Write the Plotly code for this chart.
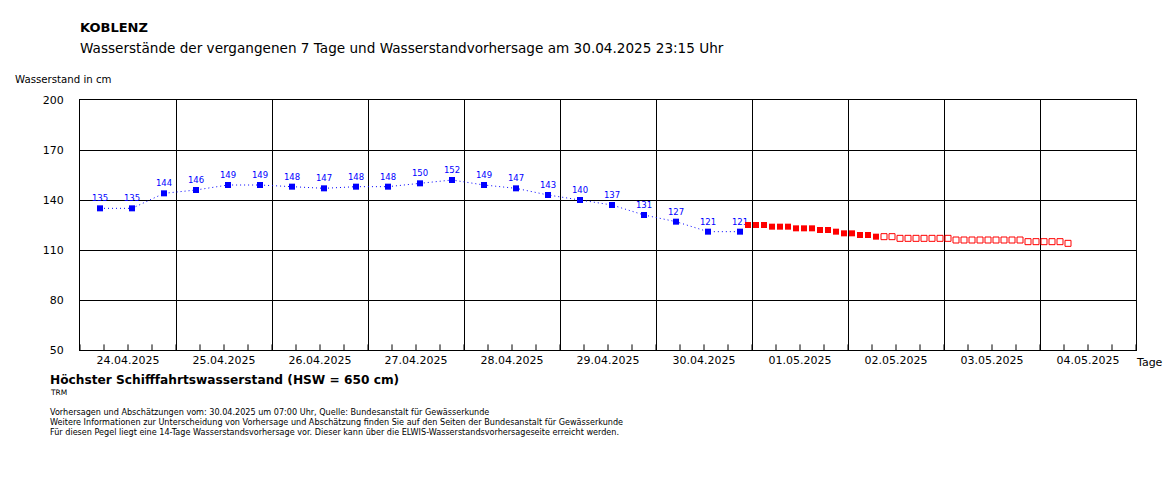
import pandas as pd
import plotly.graph_objects as go

# ---------------- data ----------------
gemessen_werte = [135, 135, 144, 146, 149, 149, 148, 147, 148, 148, 150,
                  152, 149, 147, 143, 140, 137, 131, 127, 121, 121]
gemessen_zeit = pd.date_range("2025-04-24 05:00", periods=len(gemessen_werte), freq="8h")

vorhersage_werte = [125, 125, 125, 124, 124, 124, 123, 123, 123, 122, 122,
                    121, 120, 120, 119, 119, 118]
vorhersage_zeit = pd.date_range("2025-04-30 23:00", periods=len(vorhersage_werte), freq="2h")

abschaetzung_werte = [118, 118, 117, 117, 117, 117, 117, 117, 117,
                      116, 116, 116, 116, 116, 116, 116, 116, 116,
                      115, 115, 115, 115, 115, 114]
abschaetzung_zeit = pd.date_range(vorhersage_zeit[-1] + pd.Timedelta(hours=2),
                                  periods=len(abschaetzung_werte), freq="2h")

titel = "KOBLENZ"
untertitel = "Wasserstände der vergangenen 7 Tage und Wasserstandvorhersage am 30.04.2025 23:15 Uhr"
y_titel = "Wasserstand in cm"
x_einheit = "Tage"
hsw_text = "Höchster Schifffahrtswasserstand (HSW = 650 cm)"
kuerzel = "TRM"
fusszeilen = [
    "Vorhersagen und Abschätzungen vom: 30.04.2025 um 07:00 Uhr, Quelle: Bundesanstalt für Gewässerkunde",
    "Weitere Informationen zur Unterscheidung von Vorhersage und Abschätzung finden Sie auf den Seiten der Bundesanstalt für Gewässerkunde",
    "Für diesen Pegel liegt eine 14-Tage Wasserstandsvorhersage vor. Dieser kann über die ELWIS-Wasserstandsvorhersageseite erreicht werden.",
]

# ---------------- figure ----------------
FONT = "DejaVu Sans"
W, H = 1166, 480
L, R, T, B = 80, 30, 100, 130
PW, PH = W - L - R, H - T - B
X_RANGE = ["2025-04-24 00:00", "2025-05-05 00:00"]
Y_RANGE = [50, 200]

# 6-hour tick marks along the time axis
tick_zeit = pd.date_range(X_RANGE[0], X_RANGE[1], freq="6h")


def px(x):
    return (x - L) / PW


def py(y):
    return (H - B - y) / PH


fig = go.Figure()

fig.add_trace(go.Scatter(
    x=tick_zeit, y=[Y_RANGE[0]] * len(tick_zeit), mode="markers",
    marker=dict(symbol="line-ns-open", size=8, color="black",
                line=dict(width=1, color="black")),
    cliponaxis=True, showlegend=False, hoverinfo="skip",
))

fig.add_trace(go.Scatter(
    x=gemessen_zeit, y=gemessen_werte,
    mode="lines+markers+text",
    line=dict(color="#0000FF", width=1, dash="1px,3px"),
    marker=dict(symbol="square", size=6, color="#0000FF"),
    text=[str(v) for v in gemessen_werte],
    textposition="top center",
    textfont=dict(family=FONT, size=8.5, color="#0000FF"),
    showlegend=False, hoverinfo="x+y",
))

fig.add_trace(go.Scatter(
    x=vorhersage_zeit, y=vorhersage_werte, mode="markers",
    marker=dict(symbol="square", size=6, color="#FF0000"),
    showlegend=False,
))

fig.add_trace(go.Scatter(
    x=abschaetzung_zeit, y=abschaetzung_werte, mode="markers",
    marker=dict(symbol="square-open", size=6, color="#FF0000",
                line=dict(width=1, color="#FF0000")),
    showlegend=False,
))

fig.update_layout(
    width=W, height=H,
    margin=dict(l=L, r=R, t=T, b=B, pad=0),
    paper_bgcolor="white", plot_bgcolor="white",
    font=dict(family=FONT, size=11, color="black"),
    xaxis=dict(
        type="date", range=X_RANGE,
        tick0="2025-04-24", dtick=86400000,
        tickformat="%d.%m.%Y", ticklabelmode="period",
        ticks="", showgrid=True, gridcolor="black", gridwidth=1,
        showline=True, linecolor="black", linewidth=1, mirror=True,
        tickfont=dict(family=FONT, size=11),
        zeroline=False,
    ),
    yaxis=dict(
        range=Y_RANGE, tick0=50, dtick=30,
        ticks="", showgrid=True, gridcolor="black", gridwidth=1,
        showline=True, linecolor="black", linewidth=1, mirror=True,
        tickfont=dict(family=FONT, size=11),
        ticklabelstandoff=13, zeroline=False,
    ),
)

ann = [
    dict(text="<b>" + titel + "</b>", x=px(78), y=py(28), size=13),
    dict(text=untertitel, x=px(78), y=py(48), size=13.6),
    dict(text=y_titel, x=px(13), y=py(80), size=10.2),
    dict(text="<b>" + hsw_text + "</b>", x=px(48), y=py(380), size=12.2),
    dict(text=kuerzel, x=px(48), y=py(392), size=7.5),
    dict(text=fusszeilen[0], x=px(48), y=py(412), size=8.1),
    dict(text=fusszeilen[1], x=px(48), y=py(422), size=8.1),
    dict(text=fusszeilen[2], x=px(48), y=py(432), size=8.1),
    dict(text=x_einheit, x=px(1134), y=py(362), size=11),
]
for a in ann:
    fig.add_annotation(
        text=a["text"], x=a["x"], y=a["y"], xref="paper", yref="paper",
        xanchor="left", yanchor="middle", showarrow=False,
        font=dict(family=FONT, size=a["size"], color="black"),
    )

fig.write_html("out.html")
